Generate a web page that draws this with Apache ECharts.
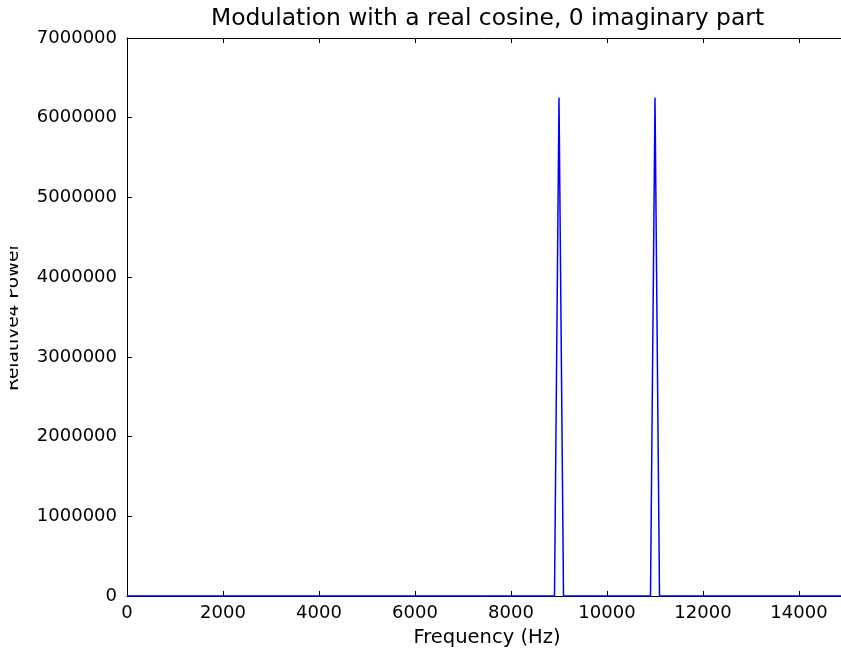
<!DOCTYPE html>
<html>
<head>
<meta charset="utf-8">
<script src="https://cdn.jsdelivr.net/npm/echarts@6/dist/echarts.min.js"></script>
<style>
html, body { margin: 0; padding: 0; background: #fff; }
#chart { width: 841px; height: 649px; }
</style>
</head>
<body>
<div id="chart"></div>
<script>
// spectrum samples (Hz, power)
var freqs = [0, 8906, 9000, 9094, 10906, 11000, 11094, 15000];
var power = [0, 0, 6250000, 0, 0, 6250000, 0, 0];
var xTicks = { min: 0, max: 15000, step: 2000 };
var yTicks = { min: 0, max: 7000000, step: 1000000 };

var font = "DejaVu Sans";
var points = [];
for (var i = 0; i < freqs.length; i++) {
    points.push([freqs[i], power[i]]);
}

var myChart = echarts.init(document.getElementById("chart"));

var axisLine = { show: true, lineStyle: { color: "#000", width: 1 } };
var tick = { show: true, inside: true, length: 5, lineStyle: { color: "#000" } };

function plain(v){
    return String(v);
}

var option = {
    animation: false,
    backgroundColor: "#fff",
    title: {
        text: "Modulation with a real cosine, 0 imaginary part",
        left: 206,
        top: 2,
        textStyle: { fontFamily: font, fontSize: 23.4, fontWeight: "normal", color: "#000" }
    },
    grid: {
        left: 127,
        right: -6,
        top: 38,
        bottom: 53,
        containLabel: false,
        outerBoundsMode: "none"
    },
    xAxis: [{
        type: "value",
        min: xTicks.min,
        max: xTicks.max,
        interval: xTicks.step,
        name: "Frequency (Hz)",
        nameLocation: "middle",
        nameGap: 32,
        nameTextStyle: { fontFamily: font, fontSize: 19.5, color: "#000" },
        axisLine: axisLine,
        axisTick: tick,
        splitLine: { show: false },
        axisLabel: {
            fontFamily: font, fontSize: 18, color: "#000", margin: 8,
            showMaxLabel: false, formatter: plain
        }
    }, {
        type: "value",
        position: "top",
        min: xTicks.min,
        max: xTicks.max,
        interval: xTicks.step,
        axisLine: axisLine,
        axisTick: tick,
        splitLine: { show: false },
        axisLabel: { show: false }
    }],
    yAxis: {
        type: "value",
        min: yTicks.min,
        max: yTicks.max,
        interval: yTicks.step,
        name: "Relative4 Power",
        nameLocation: "middle",
        nameGap: 104,
        nameTextStyle: { fontFamily: font, fontSize: 18.5, color: "#000" },
        axisLine: axisLine,
        axisTick: tick,
        splitLine: { show: false },
        axisLabel: { fontFamily: font, fontSize: 18, color: "#000", margin: 10, formatter: plain }
    },
    // the original figure is cut at the left, hiding the top of the y label
    graphic: [{
        type: "rect",
        left: 0,
        top: 220,
        shape: { width: 10, height: 200 },
        style: { fill: "#fff" },
        z: 100
    }],
    series: [{
        type: "line",
        xAxisIndex: 0,
        data: points,
        showSymbol: false,
        symbol: "none",
        lineStyle: { color: "#0000ff", width: 1.5 },
        itemStyle: { color: "#0000ff" }
    }]
};

myChart.setOption(option);
window.onresize = myChart.resize;
</script>
</body>
</html>
